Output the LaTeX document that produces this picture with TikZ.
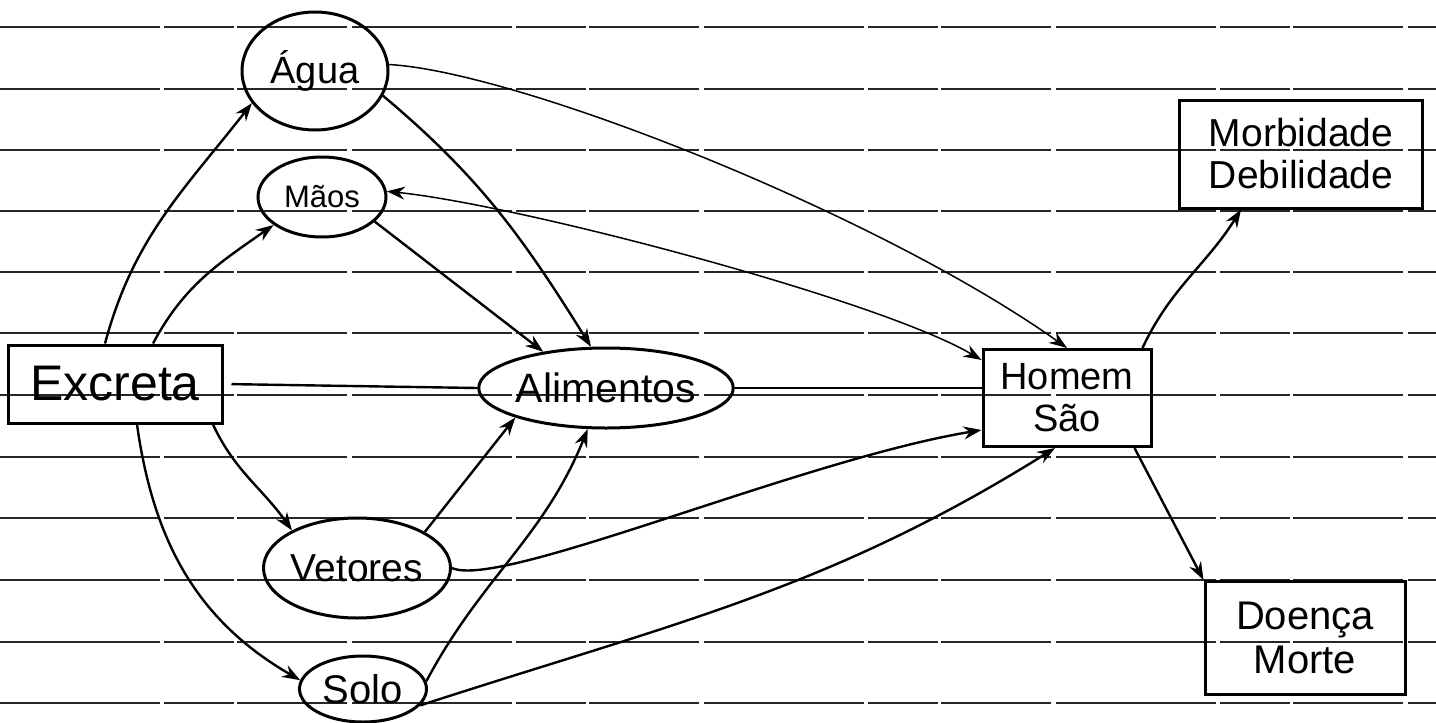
\documentclass[tikz,border=0pt]{standalone}
\usepackage{fontspec}
\setmainfont{Liberation Sans}
\usetikzlibrary{shapes.geometric,arrows.meta}
\begin{document}
\begin{tikzpicture}[x=1pt,y=1pt,
  ell/.style={ellipse,draw,line width=3pt,inner sep=0pt},
  box/.style={rectangle,draw,line width=3pt,inner sep=0pt,align=center},
  tip/.style={-{Stealth[length=18pt,width=13pt,inset=6pt]}},
  conn/.style={line width=2.4pt,tip},
  thinconn/.style={line width=1.5pt,tip},
  plainline/.style={line width=2.4pt},
  rule/.style={line width=1.6pt,black!85,dash pattern=on 160pt off 4pt on 70pt off 3pt on 110pt off 5pt}]
\fill[white] (0,0) rectangle (1436,-723);
\useasboundingbox (0,0) rectangle (1436,-723);
\foreach \y in {27,89,150,211,272,333,395,457,518,580,642,703}
  \draw[rule] (0,-\y) -- (1436,-\y);

% nodes
\node[ell,minimum width=146pt,minimum height=118pt,font=\fontsize{38}{40}\selectfont] (agua) at (315,-71) {Água};
\node[ell,minimum width=128pt,minimum height=80pt,font=\fontsize{31}{34}\selectfont] (mao) at (322,-197) {Mãos};
\node[box,minimum width=214pt,minimum height=78pt,font=\fontsize{50}{52}\selectfont] (exc) at (115,-384) {Excreta};
\node[ell,minimum width=203pt,minimum height=80pt,font=\fontsize{41}{44}\selectfont] (alim) at (606,-388) {Alimentos};
\node[box,minimum width=168pt,minimum height=97pt,font=\fontsize{38}{42}\selectfont] (hom) at (1067,-398) {Homem\\São};
\node[ell,minimum width=177pt,minimum height=100pt,font=\fontsize{39}{42}\selectfont] (vet) at (357,-568) {Vetores};
\node[ell,minimum width=127pt,minimum height=66pt,font=\fontsize{40}{42}\selectfont] (solo) at (363,-689) {Solo};
\node[box,minimum width=243pt,minimum height=108pt,font=\fontsize{39}{42}\selectfont] (morb) at (1301,-154) {Morbidade\\Debilidade};
\node[box,minimum width=200pt,minimum height=113pt,font=\fontsize{40}{44}\selectfont] (doe) at (1305,-638) {Doença\\Morte};

% connectors
\draw[conn] ([xshift=-10pt]exc.north) to[out=75,in=232] (agua.207);
\draw[conn] ([xshift=38pt]exc.north) to[out=62,in=215] (mao.210);
\draw[plainline,shorten <=8pt] (exc.east) -- (alim.west);
\draw[plainline] (alim.east) -- (alim.east -| hom.west);
\draw[conn] ([xshift=98pt]exc.south) to[out=-65,in=125] (vet.150);
\draw[conn] ([xshift=22pt]exc.south) to[out=-82,in=150] (solo.172);
\draw[conn] (agua.-20) to[out=-40,in=122] (alim.110);
\draw[conn] (mao.-25) -- (alim.150);
\draw[thinconn] (agua.5) .. controls (520,-72) and (880,-215) .. (hom.north);
\draw[thinconn,{Stealth[length=18pt,width=13pt,inset=6pt]}-{Stealth[length=18pt,width=13pt,inset=6pt]}] (mao.5) .. controls (520,-205) and (880,-300) .. ([yshift=-12pt]hom.north west);
\draw[conn] (vet.28) -- (alim.198);
\draw[conn] (solo.7) to[out=62,in=248] (alim.246);
\draw[conn] (vet.east) .. controls (500,-590) and (800,-460) .. ([yshift=-32pt]hom.west);
\draw[conn] (solo.-16) to[out=18,in=212] ([xshift=-12pt]hom.south);
\draw[conn] ([xshift=-10pt]hom.north east) to[out=65,in=238] ([xshift=-60pt]morb.south);
\draw[conn] ([xshift=-18pt]hom.south east) -- (doe.north west);
\end{tikzpicture}
\end{document}
